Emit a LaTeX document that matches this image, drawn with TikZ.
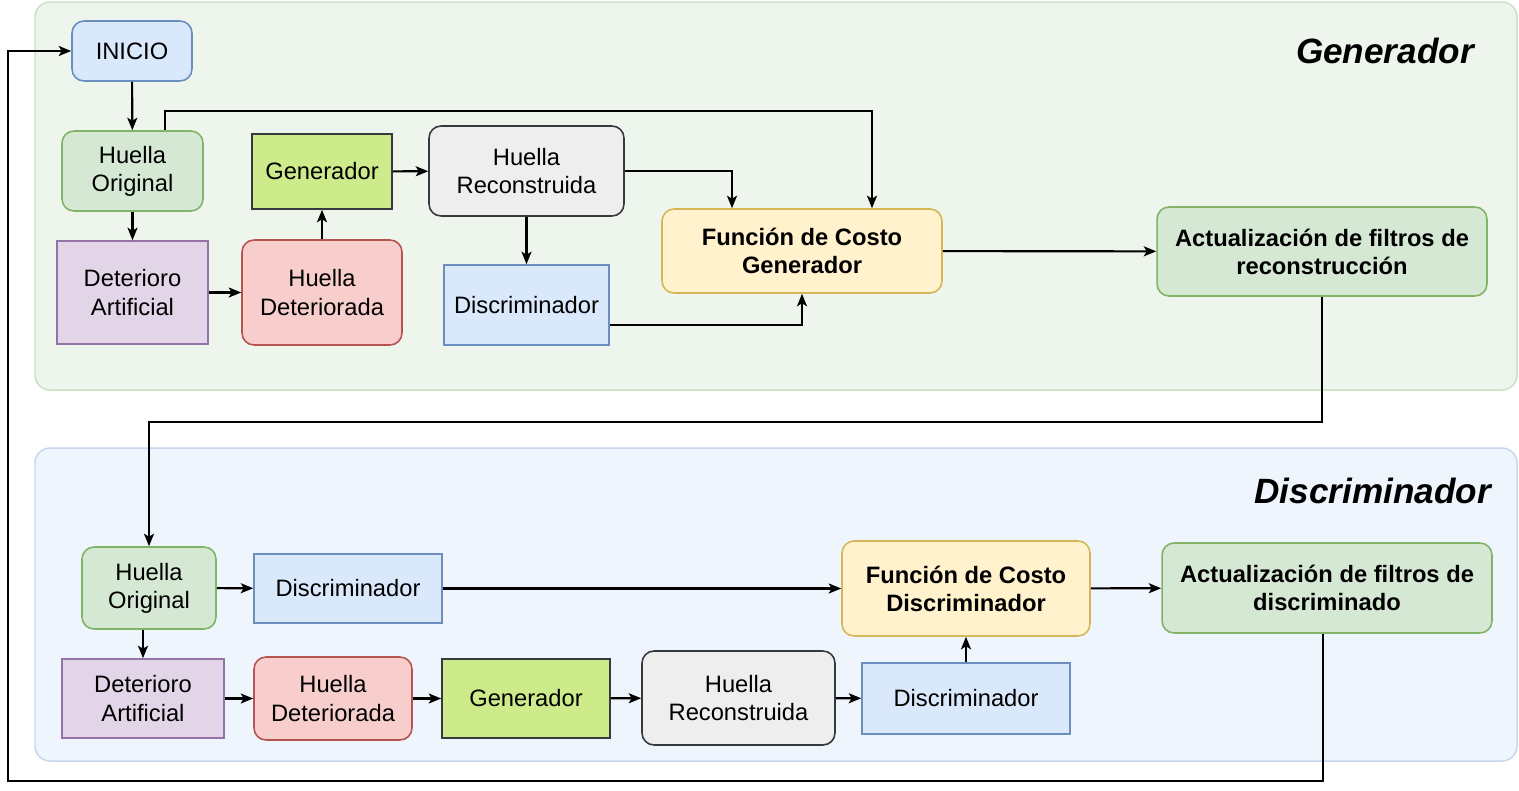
\documentclass[tikz,border=0pt]{standalone}
\usepackage{fontspec}
\setmainfont{Liberation Sans}
\usetikzlibrary{arrows.meta}
\definecolor{panG}{HTML}{EEF5EC}
\definecolor{panGd}{HTML}{C8E1C1}
\definecolor{panD}{HTML}{EEF5FD}
\definecolor{panDd}{HTML}{C6D7EC}
\definecolor{blueF}{HTML}{DAE8FC}
\definecolor{blueD}{HTML}{6C8EBF}
\definecolor{greenF}{HTML}{D5E8D4}
\definecolor{greenD}{HTML}{82B366}
\definecolor{purpF}{HTML}{E1D5E7}
\definecolor{purpD}{HTML}{9673A6}
\definecolor{redF}{HTML}{F8CECC}
\definecolor{redD}{HTML}{B85450}
\definecolor{limeF}{HTML}{CDEB8B}
\definecolor{darkD}{HTML}{36393D}
\definecolor{greyF}{HTML}{EEEEEE}
\definecolor{yelF}{HTML}{FFF2CC}
\definecolor{yelD}{HTML}{D6B656}

\begin{document}
\begin{tikzpicture}[
    x=0.02cm, y=-0.02cm,
    font=\fontsize{13.5}{16}\selectfont,
    box/.style={draw, line width=0.9pt, align=center, inner sep=2pt},
    rbox/.style={box, rounded corners=0.24cm},
    inicio/.style={rbox, fill=blueF, draw=blueD},
    orig/.style={rbox, fill=greenF, draw=greenD},
    deter/.style={box, fill=purpF, draw=purpD},
    damaged/.style={rbox, fill=redF, draw=redD},
    gen/.style={box, fill=limeF, draw=darkD},
    recon/.style={rbox, fill=greyF, draw=darkD},
    disc/.style={box, fill=blueF, draw=blueD},
    cost/.style={rbox, fill=yelF, draw=yelD, font=\fontsize{13.5}{16}\selectfont\bfseries},
    upd/.style={rbox, fill=greenF, draw=greenD, font=\fontsize{13.5}{16}\selectfont\bfseries},
    arr/.style={-{Stealth[length=0.25cm, width=0.2cm, inset=0.06cm]}, line width=1.2pt},
    title/.style={font=\fontsize{20}{24}\selectfont\bfseries\itshape, anchor=east},
]
\useasboundingbox (0,0) rectangle (1519,791);

% ---- panels ----
\draw[panGd, fill=panG, line width=0.85pt, rounded corners=0.3cm] (35,2) rectangle (1517,390);
\draw[panDd, fill=panD, line width=0.85pt, rounded corners=0.3cm] (35,448) rectangle (1517,761);
\node[title] (tGen) at (1480,51) {Generador};
\node[title] (tDis) at (1497,491) {Discriminador};

% ---- Generador ----
\node[inicio, minimum width=2.4cm, minimum height=1.2cm] (inicio) at (132,51) {INICIO};
\node[orig, minimum width=2.82cm, minimum height=1.6cm] (gOrig) at (132.5,171) {Huella\\Original};
\node[deter, minimum width=3.02cm, minimum height=2.06cm] (gDet) at (132.5,292.5) {Deterioro\\Artificial};
\node[damaged, minimum width=3.2cm, minimum height=2.1cm] (gDam) at (322,292.5) {Huella\\Deteriorada};
\node[gen, minimum width=2.8cm, minimum height=1.5cm] (gGen) at (322,171.5) {Generador};
\node[recon, minimum width=3.9cm, minimum height=1.8cm] (gRec) at (526.5,171) {Huella\\Reconstruida};
\node[disc, minimum width=3.3cm, minimum height=1.6cm] (gDis) at (526.5,305) {Discriminador};
\node[cost, minimum width=5.6cm, minimum height=1.68cm] (gCost) at (802,251) {Función de Costo\\Generador};
\node[upd, minimum width=6.6cm, minimum height=1.78cm] (gUpd) at (1322,251.5) {Actualización de filtros de\\reconstrucción};

\coordinate (tapA) at (165,111);
\coordinate (tapB) at (872,111);
\draw[arr] (inicio) -- (gOrig);
\draw[arr] (gOrig) -- (gDet);
\draw[arr] (gDet) -- (gDam);
\draw[arr] (gDam) -- (gGen);
\draw[arr] (gGen) -- (gRec);
\draw[arr] (gRec) -- (gDis);
\draw[arr] (gOrig.north -| tapA) -- (tapA) -- (tapB) -- (tapB |- gCost.north);
\draw[arr] (gRec.east) -| ([xshift=-1.4cm]gCost.north);
\draw[arr] ([yshift=-0.4cm]gDis.east) -| (gCost.south);
\draw[arr] (gCost) -- (gUpd);

% ---- Discriminador ----
\node[orig, minimum width=2.68cm, minimum height=1.64cm] (dOrig) at (149,588) {Huella\\Original};
\node[disc, minimum width=3.76cm, minimum height=1.38cm] (dDis) at (348,588.5) {Discriminador};
\node[deter, minimum width=3.24cm, minimum height=1.58cm] (dDet) at (143,698.5) {Deterioro\\Artificial};
\node[damaged, minimum width=3.16cm, minimum height=1.66cm] (dDam) at (333,698.5) {Huella\\Deteriorada};
\node[gen, minimum width=3.36cm, minimum height=1.58cm] (dGen) at (526,698.5) {Generador};
\node[recon, minimum width=3.86cm, minimum height=1.88cm] (dRec) at (738.5,698) {Huella\\Reconstruida};
\node[disc, minimum width=4.16cm, minimum height=1.42cm] (dDis2) at (966,698.5) {Discriminador};
\node[cost, minimum width=4.96cm, minimum height=1.9cm] (dCost) at (966,588.5) {Función de Costo\\Discriminador};
\node[upd, minimum width=6.6cm, minimum height=1.8cm] (dUpd) at (1327,588) {Actualización de filtros de\\discriminado};

\draw[arr] (dOrig) -- (dDis);
\draw[arr] (dDis) -- (dCost);
\draw[arr] (dOrig.south -| dDet.north) -- (dDet.north);
\draw[arr] (dDet) -- (dDam);
\draw[arr] (dDam) -- (dGen);
\draw[arr] (dGen) -- (dRec);
\draw[arr] (dRec) -- (dDis2);
\draw[arr] (dDis2) -- (dCost);
\draw[arr] (dCost) -- (dUpd);

% ---- links between panels ----
\coordinate (midRun) at (149,422);
\coordinate (backRun) at (8,781);
\draw[arr] (gUpd.south) |- (midRun) -- (dOrig.north);
\draw[arr] ([xshift=-0.08cm]dUpd.south) |- (backRun) |- (inicio.west);
\end{tikzpicture}
\end{document}
